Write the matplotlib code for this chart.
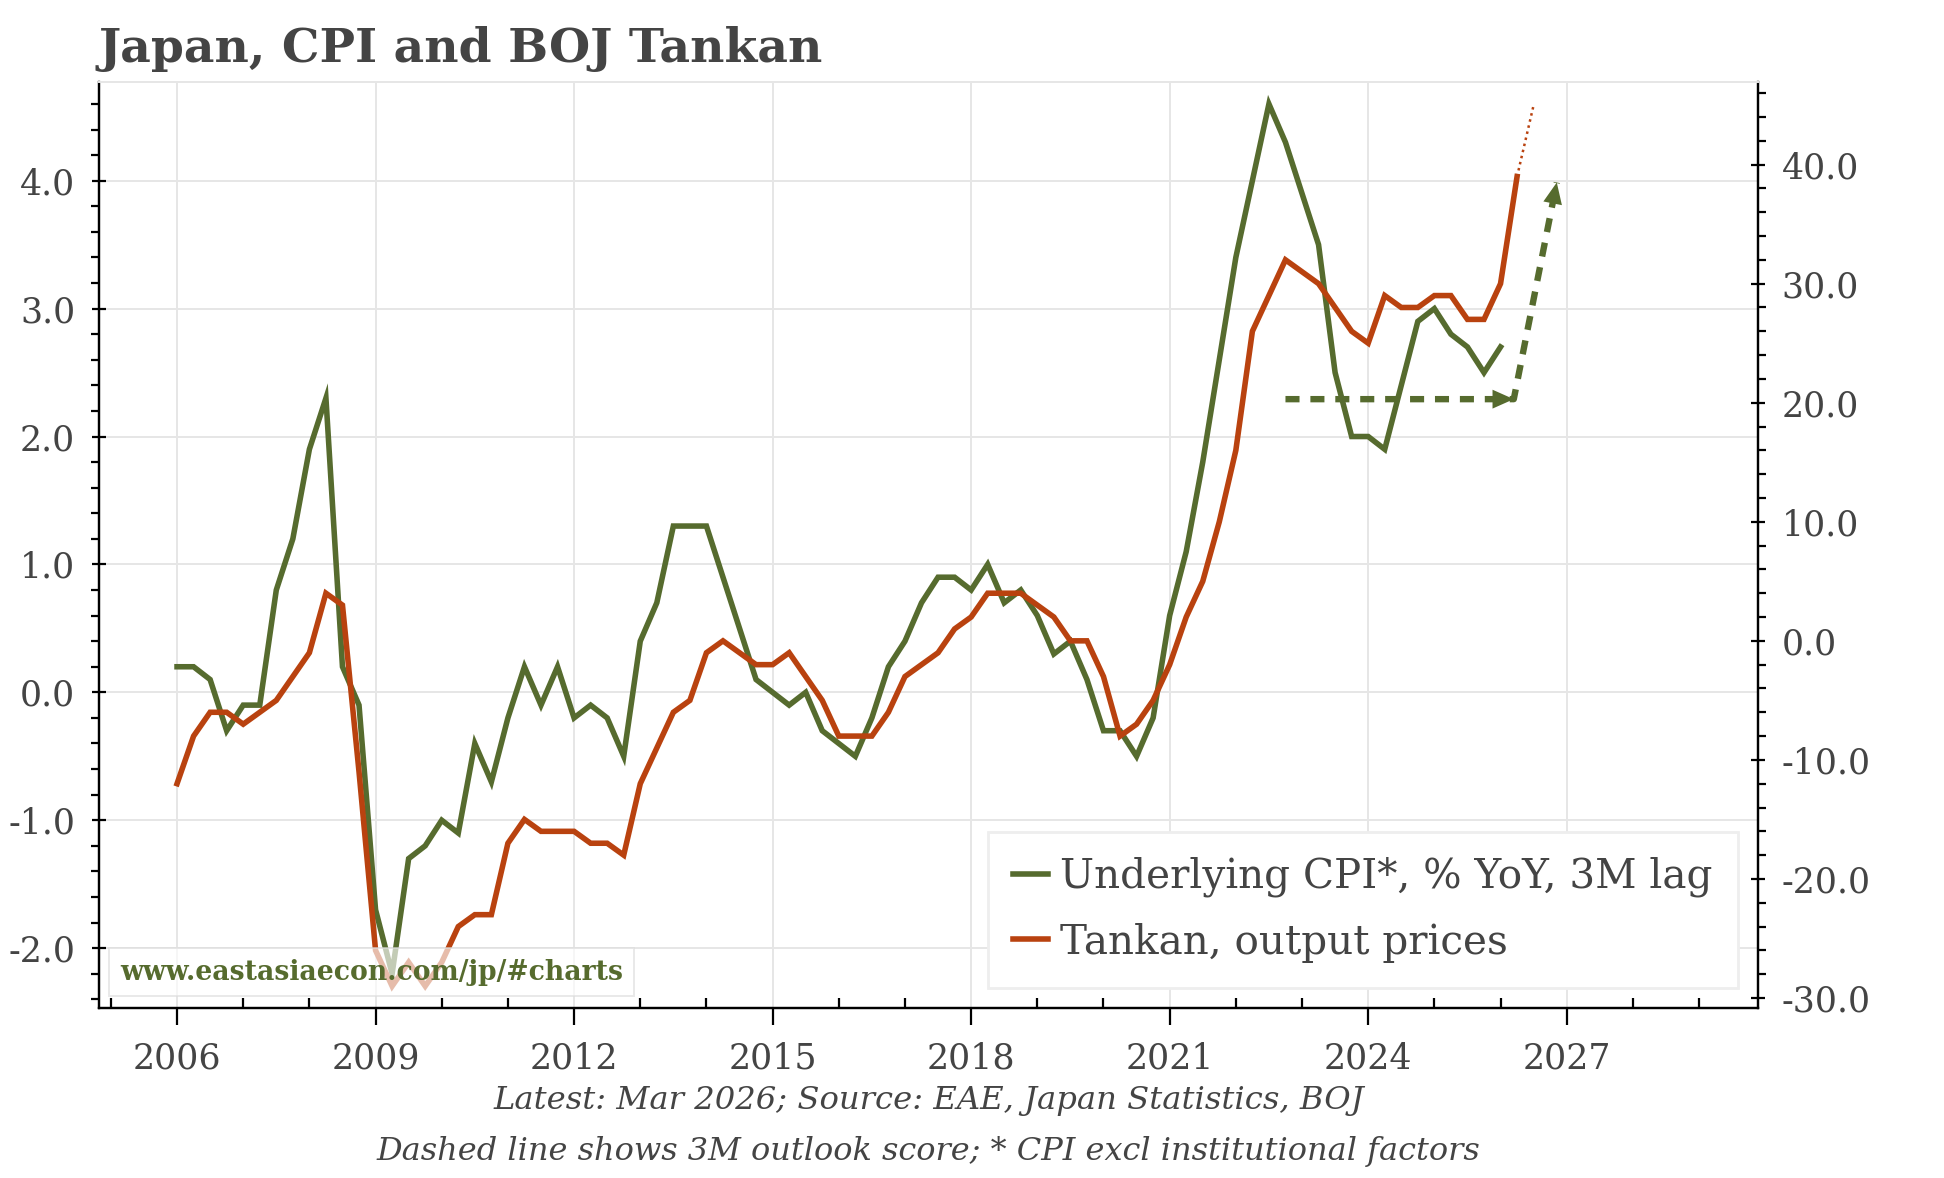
import numpy as np
import matplotlib
matplotlib.use("Agg")
import matplotlib.pyplot as plt
from matplotlib.ticker import MultipleLocator, FormatStrFormatter

# ---- data (quarterly, first point Q1 2006) ----
start_year = 2006.0
cpi_underlying = [0.2, 0.2, 0.1, -0.3,
                  -0.1, -0.1, 0.8, 1.2,
                  1.9, 2.3, 0.2, -0.1,
                  -1.7, -2.2, -1.3, -1.2,
                  -1.0, -1.1, -0.4, -0.7,
                  -0.2, 0.2, -0.1, 0.2,
                  -0.2, -0.1, -0.2, -0.5,
                  0.4, 0.7, 1.3, 1.3,
                  1.3, 0.9, 0.5, 0.1,
                  0.0, -0.1, 0.0, -0.3,
                  -0.4, -0.5, -0.2, 0.2,
                  0.4, 0.7, 0.9, 0.9,
                  0.8, 1.0, 0.7, 0.8,
                  0.6, 0.3, 0.4, 0.1,
                  -0.3, -0.3, -0.5, -0.2,
                  0.6, 1.1, 1.8, 2.6,
                  3.4, 4.0, 4.6, 4.3,
                  3.9, 3.5, 2.5, 2.0,
                  2.0, 1.9, 2.4, 2.9,
                  3.0, 2.8, 2.7, 2.5,
                  2.7]
tankan_output = [-12, -8, -6, -6,
                 -7, -6, -5, -3,
                 -1, 4, 3, -11,
                 -26, -29, -27, -29,
                 -27, -24, -23, -23,
                 -17, -15, -16, -16,
                 -16, -17, -17, -18,
                 -12, -9, -6, -5,
                 -1, 0, -1, -2,
                 -2, -1, -3, -5,
                 -8, -8, -8, -6,
                 -3, -2, -1, 1,
                 2, 4, 4, 4,
                 3, 2, 0, 0,
                 -3, -8, -7, -5,
                 -2, 2, 5, 10,
                 16, 26, 29, 32,
                 31, 30, 28, 26,
                 25, 29, 28, 28,
                 29, 29, 27, 27,
                 30, 39]
# Tankan forecast (dotted) and 3M outlook score (dashed arrows)
tankan_fcst_x = [2026.25, 2026.5]
tankan_fcst_y = [39, 45]
outlook_x = [2022.75, 2026.2, 2026.85]
outlook_y = [20.3, 20.3, 38.5]

x_ticks = [2006, 2009, 2012, 2015, 2018, 2021, 2024, 2027]

GREEN = '#566b2e'
RED = '#b9420f'
TXT = '#444444'
GRID = '#e6e6e6'

plt.rcParams['font.family'] = ['DejaVu Serif']

cpi_x = start_year + np.arange(len(cpi_underlying)) / 4
tk_x = start_year + np.arange(len(tankan_output)) / 4

fig = plt.figure(figsize=(9.72, 5.89), dpi=200)
ax = fig.add_axes([0.0509, 0.1443, 0.9043 - 0.0509, 0.93 - 0.1443])
ax2 = ax.twinx()

l1, = ax.plot(cpi_x, cpi_underlying, color=GREEN, lw=2.0, solid_joinstyle='miter',
              label='Underlying CPI*, % YoY, 3M lag')
l2, = ax2.plot(tk_x, tankan_output, color=RED, lw=2.0, solid_joinstyle='miter',
               label='Tankan, output prices')
ax2.plot(tankan_fcst_x, tankan_fcst_y, color=RED, lw=0.9, ls=(0, (1, 1.5)))

# dashed outlook arrows
ax2.plot(outlook_x, outlook_y, color=GREEN, lw=2.3, ls=(0, (2.2, 1.7)), dash_capstyle='butt')
for i in range(1, len(outlook_x)):
    x0, y0 = outlook_x[i - 1], outlook_y[i - 1]
    x1, y1 = outlook_x[i], outlook_y[i]
    ax2.annotate('', xy=(x1, y1), xytext=(x1 - (x1 - x0) * 0.02, y1 - (y1 - y0) * 0.02),
                 arrowprops=dict(arrowstyle='-|>,head_length=0.9,head_width=0.4',
                                 color=GREEN, lw=0, shrinkA=0, shrinkB=0, mutation_scale=8.5))

ax.set_xlim(2004.82, 2029.89)
ax.set_ylim(-2.468, 4.768)
ax2.set_ylim(-30.84, 46.9)

ax.set_xticks(x_ticks)
ax.xaxis.set_minor_locator(MultipleLocator(1))
ax.yaxis.set_major_locator(MultipleLocator(1))
ax.yaxis.set_minor_locator(MultipleLocator(0.2))
ax.yaxis.set_major_formatter(FormatStrFormatter('%.1f'))
ax2.yaxis.set_major_locator(MultipleLocator(10))
ax2.yaxis.set_minor_locator(MultipleLocator(2))
ax2.yaxis.set_major_formatter(FormatStrFormatter('%.1f'))

ax.grid(True, which='major', color=GRID, lw=0.7)
ax.set_axisbelow(True)

ax.tick_params(axis='x', which='major', direction='out', length=6, width=0.8,
               labelsize=12.5, labelcolor=TXT, pad=6)
ax.tick_params(axis='x', which='minor', direction='in', length=3.5, width=0.8)
ax.tick_params(axis='y', which='major', direction='inout', length=5, width=0.8,
               labelsize=12.5, labelcolor=TXT, pad=6)
ax.tick_params(axis='y', which='minor', direction='out', length=3, width=0.8)
ax2.tick_params(axis='y', which='major', direction='inout', length=5, width=0.8,
                labelsize=12.5, labelcolor=TXT, pad=6)
ax2.tick_params(axis='y', which='minor', direction='out', length=3, width=0.8)

for a in (ax, ax2):
    a.spines['top'].set_color(GRID)
    a.spines['top'].set_linewidth(0.7)
    for s in ('left', 'right', 'bottom'):
        a.spines[s].set_linewidth(0.8)

leg = ax2.legend(handles=[l1, l2], loc='lower right', fontsize=14.6, frameon=True,
                 fancybox=False, edgecolor='#eeeeee', framealpha=1,
                 handlelength=0.85, handletextpad=0.3, labelspacing=0.62,
                 borderpad=0.62, borderaxespad=0.5)
for t in leg.get_texts():
    t.set_color(TXT)
leg.set_zorder(20)

ax2.text(0.0127, 0.0389, 'www.eastasiaecon.com/jp/#charts', transform=ax2.transAxes,
         ha='left', va='center', fontsize=9.6, fontweight='bold', color=GREEN, zorder=15,
         bbox=dict(boxstyle='square,pad=0.4', facecolor='white', alpha=0.65,
                   edgecolor='#dddddd', lw=0.7))

fig.text(0.0509, 0.947, 'Japan, CPI and BOJ Tankan', fontsize=17, fontweight='bold',
         color=TXT, ha='left', va='baseline')
fig.text(0.4776, 0.0654, 'Latest: Mar 2026; Source: EAE, Japan Statistics, BOJ',
         fontsize=11.6, style='italic', color=TXT, ha='center', va='center')
fig.text(0.4776, 0.0221, 'Dashed line shows 3M outlook score; * CPI excl institutional factors',
         fontsize=11.5, style='italic', color=TXT, ha='center', va='center')

fig.savefig('out.png', dpi=200)
